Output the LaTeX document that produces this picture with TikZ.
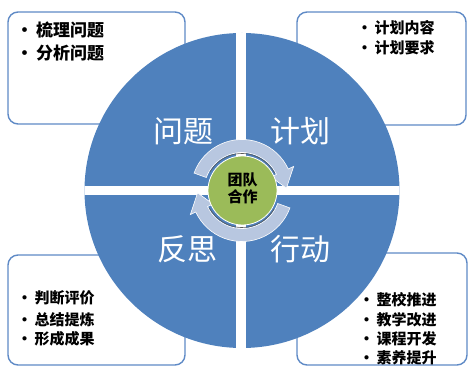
\documentclass[tikz,border=0pt]{standalone}
\usepackage{fontspec}
\newfontfamily\cjk{Noto Sans CJK SC}
\definecolor{cblue}{RGB}{79,129,189}
\definecolor{bborder}{RGB}{95,138,198}
\definecolor{cgreen}{RGB}{155,187,89}
\definecolor{ringc}{RGB}{184,199,224}
\begin{document}
\begin{tikzpicture}[x=1pt,y=1pt,
  box/.style={draw=bborder,line width=1.4pt,rounded corners=10pt,fill=white},
  item/.style={anchor=west,inner sep=0pt,font=\cjk\bfseries\fontsize{15}{15}\selectfont},
  itemL/.style={anchor=west,inner sep=0pt,font=\cjk\bfseries\fontsize{17}{17}\selectfont},
  big/.style={text=white,inner sep=0pt,font=\cjk\fontsize{30}{30}\selectfont},
  arr/.style={fill=ringc,draw=white,line width=0.6pt},
  shade/.style={draw=black!65,line width=0.6pt}]
\useasboundingbox (0,0) rectangle (469,367);
\begin{scope}
\clip (0,0) rectangle (469,367);
% boxes
\draw[box] (8,243) rectangle (185,355);
\draw[box] (297,242) rectangle (466,355);
\draw[box] (8,2) rectangle (185,112);
\draw[box] (297,2) rectangle (467,114);
% big circle
\node[circle,fill=cblue,minimum size=315pt,inner sep=0pt] (disk) at (242,176.5) {};
\begin{scope}
\clip (242,176.5) circle (157.5);
\fill[white] (80,172) rectangle (405,181);
\fill[white] (236,15) rectangle (246,340);
\end{scope}
% ring arrows
\begin{scope}[shift={(242,176.5)}]
\draw[arr] (160:51) arc[start angle=160,end angle=25,radius=51] -- (25:57) -- (3:44.5) -- (25:32) -- (25:38) arc[start angle=25,end angle=160,radius=38] -- cycle;
\draw[arr] (340:51) arc[start angle=340,end angle=205,radius=51] -- (205:57) -- (183:44.5) -- (205:32) -- (205:38) arc[start angle=205,end angle=340,radius=38] -- cycle;
\draw[shade] (150:37) arc[start angle=150,end angle=28,radius=37];
\draw[shade] (330:37) arc[start angle=330,end angle=208,radius=37];
\end{scope}
\node[circle,fill=cgreen,draw=white,line width=0.8pt,minimum size=69pt,inner sep=0pt] (team) at (242.5,176.5) {};
\node[align=center,inner sep=0pt,font=\cjk\bfseries\fontsize{15}{17}\selectfont] (teamtxt) at (242.5,178.5) {团队\\合作};
% quadrant labels
\node[big] (wenti) at (183,236) {问题};
\node[big] (jihua) at (300,236) {计划};
\node[big] (fansi) at (187,118) {反思};
\node[big] (xingdong) at (300,118) {行动};
% box texts
\node[itemL] (tl1) at (16,337) {•\,梳理问题};
\node[itemL] (tl2) at (16,314) {•\,分析问题};
\node[item] (tr1) at (357,339) {•\,计划内容};
\node[item] (tr2) at (357,319) {•\,计划要求};
\node[item] (bl1) at (17,69) {•\,判断评价};
\node[item] (bl2) at (17,47) {•\,总结提炼};
\node[item] (bl3) at (17,28) {•\,形成成果};
\node[item] (br1) at (359,67) {•\,整校推进};
\node[item] (br2) at (359,47) {•\,教学改进};
\node[item] (br3) at (359,28) {•\,课程开发};
\node[item] (br4) at (359,9) {•\,素养提升};
\end{scope}
\end{tikzpicture}
\end{document}
